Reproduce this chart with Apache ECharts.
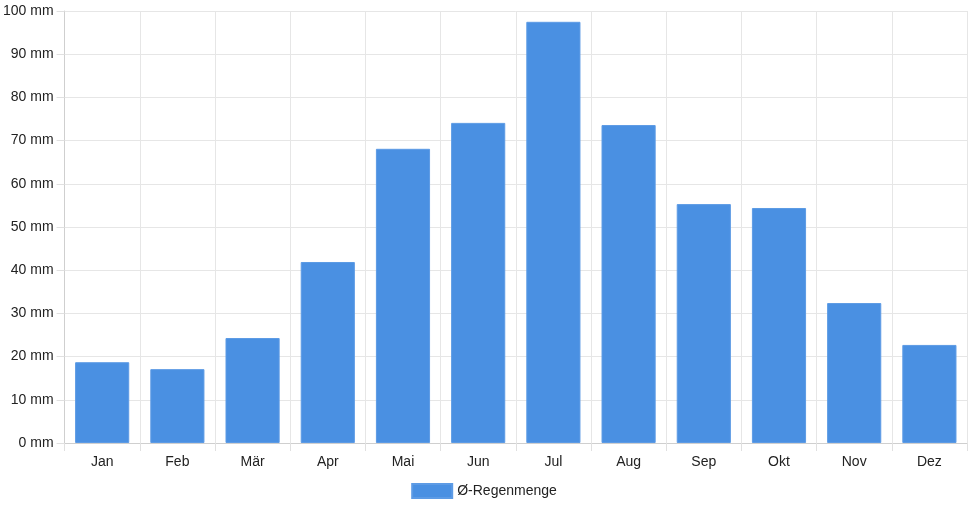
<!DOCTYPE html>
<html>
<head>
<meta charset="utf-8">
<script src="https://cdn.jsdelivr.net/npm/echarts@6/dist/echarts.min.js"></script>
<style>
  html, body { margin: 0; padding: 0; background: #fff; }
  #main { width: 968px; height: 508px; }
</style>
</head>
<body>
<div id="main"></div>
<script>
var months = ['Jan', 'Feb', 'Mär', 'Apr', 'Mai', 'Jun', 'Jul', 'Aug', 'Sep', 'Okt', 'Nov', 'Dez'];
var rain = [18.7, 17.1, 24.3, 41.9, 68.1, 74.1, 97.5, 73.6, 55.3, 54.4, 32.4, 22.7];
var seriesName = 'Ø-Regenmenge';

var myChart = echarts.init(document.getElementById('main'));

var option = {
  animation: false,
  textStyle: { fontFamily: 'Liberation Sans, Arial, sans-serif' },
  legend: {
    data: [{ name: seriesName, icon: 'rect' }],
    bottom: 4,
    left: 'center',
    itemWidth: 40,
    itemHeight: 14,
    itemGap: 10,
    textStyle: { fontSize: 14, color: '#222' }
  },
  grid: {
    left: 64,
    right: 1,
    top: 11,
    bottom: 65
  },
  xAxis: {
    type: 'category',
    data: months,
    axisLine: { lineStyle: { color: '#cfcfcf' } },
    axisTick: { show: true, length: 8, lineStyle: { color: '#e0e0e0' } },
    axisLabel: { color: '#222', fontSize: 14, margin: 12 },
    splitLine: { show: true, lineStyle: { color: '#e6e6e6' } }
  },
  yAxis: {
    type: 'value',
    min: 0,
    max: 100,
    interval: 10,
    axisLine: { show: true, lineStyle: { color: '#cfcfcf' } },
    axisTick: { show: true, length: 8, lineStyle: { color: '#e0e0e0' } },
    axisLabel: { color: '#222', fontSize: 14, margin: 11, formatter: '{value} mm' },
    splitLine: { lineStyle: { color: '#e6e6e6' } }
  },
  series: [
    {
      name: seriesName,
      type: 'bar',
      data: rain,
      barCategoryGap: '28%',
      itemStyle: { color: '#4a90e2', borderColor: '#5d9be5', borderWidth: 1 }
    }
  ]
};

myChart.setOption(option);
</script>
</body>
</html>
